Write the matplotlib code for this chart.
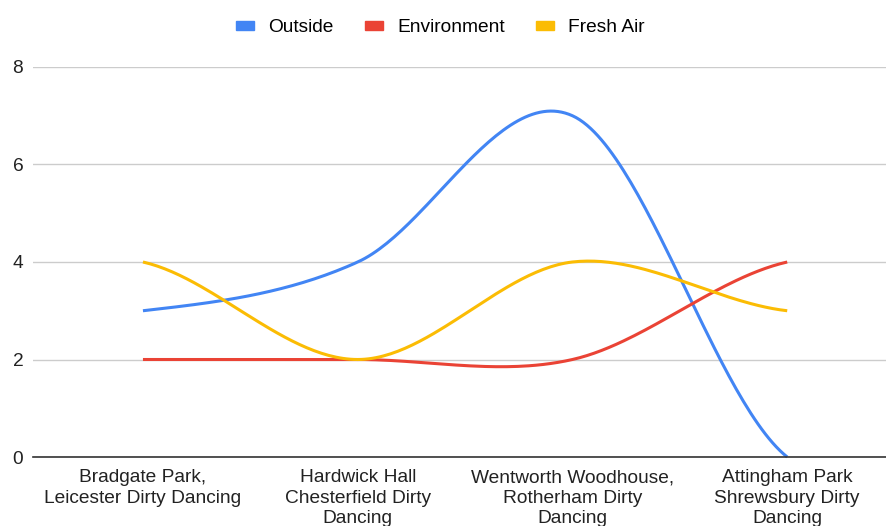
import numpy as np
import matplotlib

matplotlib.use("Agg")
import matplotlib.pyplot as plt
from matplotlib.patches import Rectangle


SITES = [
    "Bradgate Park,\nLeicester Dirty Dancing",
    "Hardwick Hall\nChesterfield Dirty\nDancing",
    "Wentworth Woodhouse,\nRotherham Dirty\nDancing",
    "Attingham Park\nShrewsbury Dirty\nDancing",
]
OUTSIDE = [3, 4, 7, 0]
ENVIRONMENT = [2, 2, 2, 4]
FRESH_AIR = [4, 2, 4, 3]

SERIES = [
    ("Outside", OUTSIDE, "#4285F4"),
    ("Environment", ENVIRONMENT, "#EA4335"),
    ("Fresh Air", FRESH_AIR, "#FBBC04"),
]
TEXT_SIZE = 13.8

plt.rcParams["font.family"] = ["Liberation Sans", "DejaVu Sans"]


def smooth(ys, steps=60):
    """Catmull-Rom curve through the points, endpoints duplicated."""
    ys = np.asarray(ys, dtype=float)
    padded = np.concatenate([[ys[0]], ys, [ys[-1]]])
    xs_out, ys_out = [], []
    for i in range(len(ys) - 1):
        p0, p1 = padded[i + 1], padded[i + 2]
        m0 = (padded[i + 2] - padded[i]) / 2
        m1 = (padded[i + 3] - padded[i + 1]) / 2
        t = np.linspace(0, 1, steps)
        h00 = 2 * t**3 - 3 * t**2 + 1
        h10 = t**3 - 2 * t**2 + t
        h01 = -2 * t**3 + 3 * t**2
        h11 = t**3 - t**2
        xs_out.append(i + t)
        ys_out.append(h00 * p0 + h10 * m0 + h01 * p1 + h11 * m1)
    return np.concatenate(xs_out), np.concatenate(ys_out)


fig = plt.figure(figsize=(8.86, 5.26), dpi=100)
ax = fig.add_axes([33 / 886, 69 / 526, 1 - 33 / 886, 390 / 526])

for name, values, color in SERIES:
    x, y = smooth(values)
    ax.plot(x, y, color=color, linewidth=2.2, solid_capstyle="butt", clip_on=False)

ax.set_xlim(-0.512, 3.46)
ax.set_ylim(0, 8)
ax.set_yticks([0, 2, 4, 6, 8])
ax.set_xticks(range(len(SITES)))
ax.set_xticklabels(SITES, fontsize=TEXT_SIZE, color="#222222", linespacing=1.26)
ax.tick_params(axis="both", length=0, labelsize=TEXT_SIZE, colors="#222222")
ax.tick_params(axis="y", pad=7)
ax.tick_params(axis="x", pad=9)

ax.grid(axis="y", color="#cccccc", linewidth=1)
ax.set_axisbelow(True)
for side in ("left", "right", "top"):
    ax.spines[side].set_visible(False)
ax.spines["bottom"].set_color("#333333")
ax.spines["bottom"].set_linewidth(1.2)

handles = [Rectangle((0, 0), 1, 1, color=c) for _, _, c in SERIES]
fig.legend(
    handles,
    [n for n, _, _ in SERIES],
    loc="center",
    bbox_to_anchor=(0.497, 1 - 28 / 526),
    ncol=3,
    frameon=False,
    fontsize=TEXT_SIZE,
    handlelength=0.95,
    handleheight=0.32,
    handletextpad=0.72,
    columnspacing=1.65,
)

fig.savefig("out.png", dpi=100)
